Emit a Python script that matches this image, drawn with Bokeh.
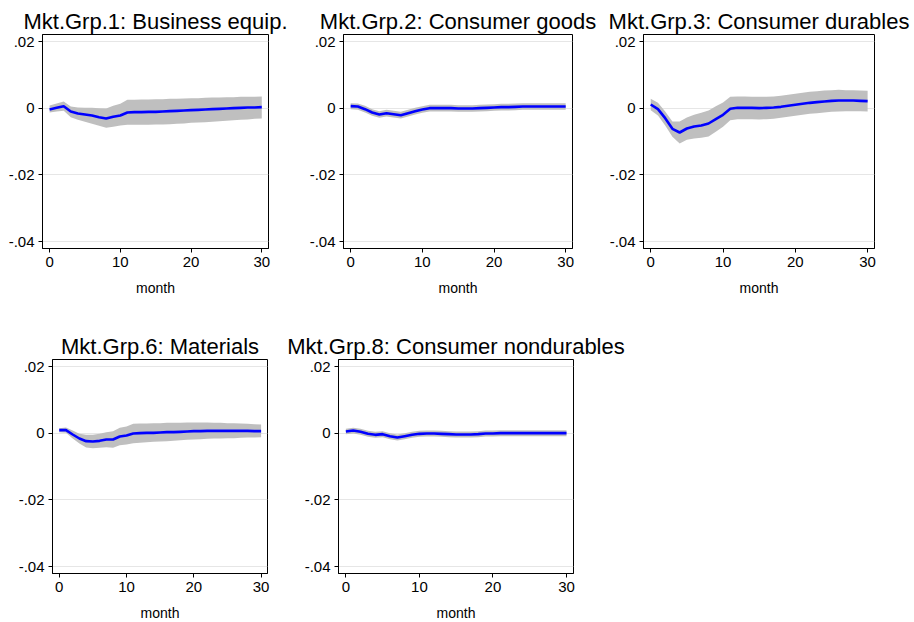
from bokeh.embed import file_html
from bokeh.layouts import column, row
from bokeh.models import ColumnDataSource, FixedTicker, Range1d
from bokeh.plotting import figure
from bokeh.resources import INLINE

months = list(range(31))

titles = [
    "Mkt.Grp.1: Business equip.",
    "Mkt.Grp.2: Consumer goods",
    "Mkt.Grp.3: Consumer durables",
    "Mkt.Grp.6: Materials",
    "Mkt.Grp.8: Consumer nondurables",
]

# Impulse responses (blue line) and confidence bands (grey area), months 0..30.
irf_grp1 = [-0.0004, 0.0001, 0.0006, -0.0010, -0.0016, -0.0019, -0.0022, -0.0027, -0.0031, -0.0026,
            -0.0022, -0.0013, -0.0012, -0.0012, -0.0011, -0.0011, -0.0010, -0.0009, -0.0008, -0.0007,
            -0.0006, -0.0005, -0.0004, -0.0003, -0.0002, -0.0001, 0.0000, 0.0001, 0.0002, 0.0002, 0.0003]
upper_grp1 = [0.0008, 0.0014, 0.0020, 0.0005, 0.0002, 0.0001, 0.0001, 0.0000, -0.0001, 0.0007,
              0.0013, 0.0025, 0.0025, 0.0026, 0.0026, 0.0027, 0.0027, 0.0028, 0.0028, 0.0029,
              0.0030, 0.0030, 0.0031, 0.0032, 0.0032, 0.0033, 0.0033, 0.0034, 0.0034, 0.0034, 0.0035]
lower_grp1 = [-0.0013, -0.0010, -0.0008, -0.0027, -0.0035, -0.0041, -0.0047, -0.0053, -0.0059, -0.0056,
              -0.0052, -0.0050, -0.0050, -0.0050, -0.0050, -0.0049, -0.0049, -0.0048, -0.0047, -0.0046,
              -0.0044, -0.0043, -0.0042, -0.0041, -0.0039, -0.0038, -0.0036, -0.0035, -0.0034, -0.0032, -0.0031]

irf_grp2 = [0.0006, 0.0005, -0.0003, -0.0013, -0.0019, -0.0015, -0.0018, -0.0021, -0.0015, -0.0009,
            -0.0004, 0.0000, 0.0000, 0.0000, 0.0000, -0.0001, -0.0001, -0.0001, 0.0000, 0.0001,
            0.0002, 0.0003, 0.0003, 0.0004, 0.0005, 0.0005, 0.0005, 0.0005, 0.0005, 0.0005, 0.0005]
upper_grp2 = [0.0015, 0.0014, 0.0007, -0.0003, -0.0009, -0.0005, -0.0008, -0.0011, -0.0005, 0.0001,
              0.0006, 0.0010, 0.0010, 0.0010, 0.0010, 0.0009, 0.0009, 0.0009, 0.0010, 0.0011,
              0.0012, 0.0013, 0.0013, 0.0014, 0.0015, 0.0015, 0.0015, 0.0015, 0.0015, 0.0015, 0.0015]
lower_grp2 = [-0.0003, -0.0005, -0.0013, -0.0023, -0.0029, -0.0025, -0.0028, -0.0031, -0.0025, -0.0019,
              -0.0014, -0.0010, -0.0010, -0.0010, -0.0010, -0.0011, -0.0011, -0.0011, -0.0010, -0.0009,
              -0.0008, -0.0007, -0.0007, -0.0006, -0.0005, -0.0005, -0.0005, -0.0005, -0.0005, -0.0005, -0.0005]

irf_grp3 = [0.0011, -0.0003, -0.0030, -0.0062, -0.0073, -0.0061, -0.0055, -0.0052, -0.0046, -0.0033,
            -0.0020, -0.0002, 0.0001, 0.0001, 0.0001, 0.0000, 0.0001, 0.0002, 0.0004, 0.0007,
            0.0010, 0.0013, 0.0016, 0.0018, 0.0020, 0.0022, 0.0023, 0.0023, 0.0023, 0.0022, 0.0021]
upper_grp3 = [0.0028, 0.0016, -0.0010, -0.0040, -0.0040, -0.0028, -0.0020, -0.0014, -0.0007, 0.0006,
              0.0017, 0.0034, 0.0035, 0.0035, 0.0034, 0.0034, 0.0034, 0.0035, 0.0037, 0.0040,
              0.0043, 0.0046, 0.0049, 0.0051, 0.0053, 0.0054, 0.0055, 0.0054, 0.0054, 0.0053, 0.0052]
lower_grp3 = [-0.0006, -0.0022, -0.0052, -0.0086, -0.0106, -0.0095, -0.0091, -0.0089, -0.0085, -0.0071,
              -0.0056, -0.0036, -0.0033, -0.0033, -0.0033, -0.0034, -0.0033, -0.0032, -0.0029, -0.0026,
              -0.0023, -0.0020, -0.0017, -0.0015, -0.0013, -0.0011, -0.0010, -0.0009, -0.0009, -0.0009, -0.0010]

irf_grp6 = [0.0009, 0.0009, -0.0004, -0.0016, -0.0024, -0.0025, -0.0023, -0.0019, -0.0019, -0.0010,
            -0.0007, -0.0001, 0.0000, 0.0001, 0.0001, 0.0002, 0.0003, 0.0003, 0.0004, 0.0005,
            0.0006, 0.0006, 0.0007, 0.0007, 0.0007, 0.0007, 0.0007, 0.0007, 0.0007, 0.0006, 0.0006]
upper_grp6 = [0.0015, 0.0017, 0.0008, -0.0002, -0.0005, -0.0005, -0.0002, 0.0003, 0.0006, 0.0016,
              0.0020, 0.0028, 0.0029, 0.0029, 0.0030, 0.0030, 0.0031, 0.0031, 0.0031, 0.0032,
              0.0032, 0.0032, 0.0032, 0.0031, 0.0031, 0.0030, 0.0030, 0.0029, 0.0028, 0.0027, 0.0026]
lower_grp6 = [0.0003, 0.0001, -0.0016, -0.0031, -0.0043, -0.0045, -0.0044, -0.0042, -0.0044, -0.0036,
              -0.0034, -0.0030, -0.0029, -0.0027, -0.0026, -0.0025, -0.0024, -0.0023, -0.0021, -0.0020,
              -0.0019, -0.0018, -0.0017, -0.0016, -0.0016, -0.0015, -0.0015, -0.0014, -0.0013, -0.0013, -0.0012]

irf_grp8 = [0.0005, 0.0008, 0.0004, -0.0002, -0.0005, -0.0003, -0.0009, -0.0013, -0.0009, -0.0005,
            -0.0002, -0.0001, -0.0001, -0.0002, -0.0003, -0.0004, -0.0004, -0.0004, -0.0003, -0.0001,
            -0.0001, 0.0000, 0.0000, 0.0000, 0.0000, 0.0000, 0.0000, 0.0000, 0.0000, 0.0000, 0.0000]
upper_grp8 = [0.0013, 0.0016, 0.0013, 0.0007, 0.0004, 0.0006, 0.0000, -0.0004, 0.0000, 0.0004,
              0.0007, 0.0008, 0.0008, 0.0007, 0.0006, 0.0005, 0.0005, 0.0005, 0.0006, 0.0008,
              0.0008, 0.0009, 0.0009, 0.0009, 0.0009, 0.0009, 0.0009, 0.0009, 0.0009, 0.0009, 0.0009]
lower_grp8 = [-0.0003, -0.0001, -0.0005, -0.0011, -0.0014, -0.0012, -0.0018, -0.0022, -0.0018, -0.0014,
              -0.0011, -0.0010, -0.0010, -0.0011, -0.0012, -0.0013, -0.0013, -0.0013, -0.0012, -0.0010,
              -0.0010, -0.0009, -0.0009, -0.0009, -0.0009, -0.0009, -0.0009, -0.0009, -0.0009, -0.0009, -0.0009]

x_ticks = [0, 10, 20, 30]
y_ticks = [-0.04, -0.02, 0, 0.02]
y_tick_labels = ["-.04", "-.02", "0", ".02"]

FONT = "Liberation Sans"


def make_panel(title, irf, upper, lower, frame_width, border_left, border_right, border_bottom):
    """One IRF panel: grey band, blue response, Stata-like axes."""
    p = figure(
        frame_width=frame_width,
        frame_height=214,
        x_range=Range1d(-1.0, 30.95),
        y_range=Range1d(-0.0421, 0.0221),
        output_backend="svg",
        toolbar_location=None,
        min_border_left=border_left,
        min_border_right=border_right,
        min_border_top=34,
        min_border_bottom=border_bottom,
        background_fill_color="white",
        border_fill_color="white",
        outline_line_color="black",
        outline_line_width=1,
    )
    p.title.text = title
    p.title.text_font = FONT
    p.title.text_font_size = "22px"
    p.title.text_font_style = "normal"
    p.title.text_color = "black"
    p.title.align = "center"
    p.title.standoff = 2
    p.title.offset = 0

    source = ColumnDataSource(data={"month": months, "irf": irf, "upper": upper, "lower": lower})
    p.varea(x="month", y1="lower", y2="upper", source=source, fill_color="#bfbfbf")
    p.line(x="month", y="irf", source=source, line_color="#0000ff", line_width=2.6)

    p.xgrid.visible = False
    p.ygrid.grid_line_color = "#e6e6e6"
    p.ygrid.grid_line_width = 1

    p.xaxis.ticker = FixedTicker(ticks=x_ticks)
    p.yaxis.ticker = FixedTicker(ticks=y_ticks)
    p.yaxis.major_label_overrides = dict(zip(y_ticks, y_tick_labels))
    p.xaxis.axis_label = "month"
    p.xaxis.axis_label_text_font = FONT
    p.xaxis.axis_label_text_font_size = "14px"
    p.xaxis.axis_label_text_font_style = "normal"
    p.xaxis.axis_label_text_color = "black"
    p.xaxis.axis_label_standoff = 10

    for axis in (p.xaxis, p.yaxis):
        axis.major_label_text_font = FONT
        axis.major_label_text_font_size = "15px"
        axis.major_label_text_color = "black"
        axis.major_tick_in = 0
        axis.major_tick_out = 4
        axis.major_tick_line_color = "black"
        axis.minor_tick_line_color = None
        axis.axis_line_color = "black"
        axis.major_label_standoff = 4
    p.yaxis.major_label_orientation = "horizontal"
    return p


# Bokeh's page has no body margin, so the borders place each frame directly.
p1 = make_panel(titles[0], irf_grp1, upper_grp1, lower_grp1, 226, 42, 37, 77)
p2 = make_panel(titles[1], irf_grp2, upper_grp2, lower_grp2, 229, 38, 33, 77)
p3 = make_panel(titles[2], irf_grp3, upper_grp3, lower_grp3, 231, 38, 40, 77)
p4 = make_panel(titles[3], irf_grp6, upper_grp6, lower_grp6, 215, 52, 11, 49)
p5 = make_panel(titles[4], irf_grp8, upper_grp8, lower_grp8, 235, 60, 70, 49)

layout = column(row(p1, p2, p3), row(p4, p5))

open("out.html", "w").write(file_html(layout, INLINE))
